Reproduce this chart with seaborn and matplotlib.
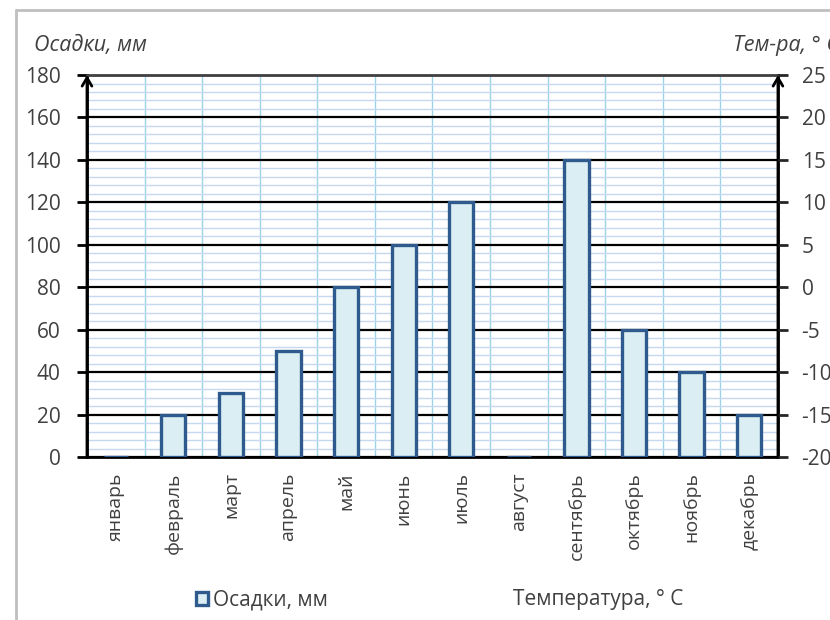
#Precipitation bar chart with an empty temperature axis (Excel style).

import numpy as np
import seaborn as sns
from matplotlib import pyplot as plt
from matplotlib.patches import Patch
from matplotlib.lines import Line2D

months = ["январь", "февраль", "март", "апрель", "май", "июнь",
          "июль", "август", "сентябрь", "октябрь", "ноябрь", "декабрь"]
precip = [0, 20, 30, 50, 80, 100, 120, 0, 140, 60, 40, 20]
temperature = []

precip_ticks = list(range(0, 181, 20))
temp_ticks = list(range(-20, 26, 5))

sns.set_style("white")
plt.rcParams['font.family'] = ['Open Sans', 'DejaVu Sans']
plt.rcParams['axes.unicode_minus'] = False

text_color = "#404040"
bar_face = "#dbeef4"
bar_edge = "#2f5a8e"

fig = plt.figure(figsize=(8.3, 6.2), dpi=100)
ax = fig.add_axes([0.1048, 0.2629, 0.8325, 0.6161])

sns.barplot(x=months, y=precip, ax=ax, width=0.42, color=bar_face,
            saturation=1, edgecolor=bar_edge, linewidth=2.4, zorder=3)

ax.set_xlim(-0.5, 11.5)
ax.set_ylim(0, 180)
ax.set_yticks(precip_ticks)
ax.set_yticks(np.arange(0, 181, 4), minor=True)
ax.set_xticks(np.arange(-0.5, 12, 1), minor=True)
ax.set_xticks(range(len(months)))
ax.set_xticklabels(months, rotation=90, va="top")
ax.set_xlabel("")

ax.grid(which="minor", axis="y", color="#c6d9f0", lw=1, zorder=0)
ax.grid(which="minor", axis="x", color="#9dd3e6", lw=1, zorder=0)
ax.grid(which="major", axis="y", color="black", lw=1.6, zorder=1)
ax.set_axisbelow(True)

ax.tick_params(axis="x", which="major", length=0, pad=11, labelsize=14)
ax.tick_params(axis="x", which="minor", length=7, width=2, direction="out", color="black")
ax.tick_params(axis="y", which="minor", length=0)
ax.tick_params(axis="y", which="major", length=7, width=2, direction="out",
               labelsize=15, color="black", pad=12)
for lab in ax.get_yticklabels() + ax.get_xticklabels():
    lab.set_color(text_color)

for side in ["left", "right", "top", "bottom"]:
    ax.spines[side].set_color("black")
    ax.spines[side].set_linewidth(2)
ax.spines["top"].set_color("#404040")

ax2 = ax.twinx()
ax2.plot(range(len(temperature)), temperature, color="none")
ax2.set_ylim(-20, 25)
ax2.set_yticks(temp_ticks)
ax2.tick_params(axis="y", length=7, width=2, direction="out", labelsize=15, pad=10)
for lab in ax2.get_yticklabels():
    lab.set_color(text_color)
for side in ["left", "right", "top", "bottom"]:
    ax2.spines[side].set_visible(False)

# arrow heads at the top of both vertical axes
for xa in (0, 1):
    ax.annotate("", xy=(xa, 1.0), xytext=(xa, 0.0), xycoords="axes fraction",
                arrowprops=dict(arrowstyle="->,head_width=0.35,head_length=0.6",
                                lw=2, color="black", shrinkA=0, shrinkB=0),
                annotation_clip=False, zorder=5)

fig.text(34 / 830, 1 - 45 / 620, "Осадки, мм", style="italic", fontsize=15.5,
         color=text_color, va="center", ha="left")
fig.text(733 / 830, 1 - 45 / 620, "Тем-ра, ° С", style="italic", fontsize=15.5,
         color=text_color, va="center", ha="left")

# chart area border
fig.add_artist(Line2D([16 / 830, 1.0], [1 - 10 / 620, 1 - 10 / 620],
                      color="#bfbfbf", lw=2))
fig.add_artist(Line2D([16 / 830, 16 / 830], [0.0, 1 - 10 / 620],
                      color="#bfbfbf", lw=2))

leg1 = fig.legend(handles=[Patch(facecolor=bar_face, edgecolor=bar_edge, lw=2.4)],
                  labels=["Осадки, мм"], loc="center left",
                  bbox_to_anchor=(177 / 830, 1 - 600 / 620), frameon=False,
                  fontsize=15, handlelength=0.6, handleheight=0.6,
                  handletextpad=0.25, labelcolor=text_color)
leg2 = fig.legend(handles=[Line2D([], [], color="none")],
                  labels=["Температура, ° С"], loc="center left",
                  bbox_to_anchor=(477 / 830, 1 - 600 / 620), frameon=False,
                  fontsize=15, handlelength=0.6, handletextpad=0.25,
                  labelcolor=text_color)

fig.savefig("out.png", dpi=100)
